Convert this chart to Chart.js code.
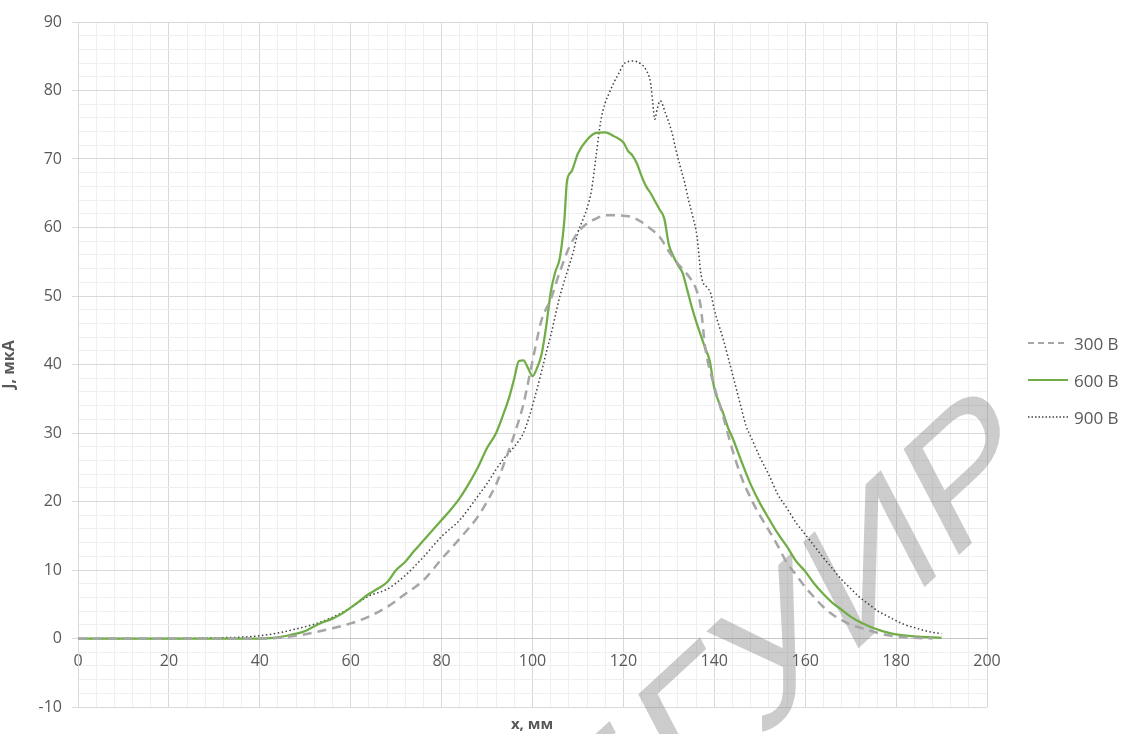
<!DOCTYPE html>
<html>
<head>
<meta charset="utf-8">
<script src="https://cdn.jsdelivr.net/npm/chart.js@4.4.0/dist/chart.umd.min.js"></script>
<style>
  html, body { margin: 0; padding: 0; background: #fff; }
  #wrap { position: relative; width: 1125px; height: 734px; font-family: 'Open Sans', sans-serif; }
  #xTitle { position: absolute; left: 482px; width: 100px; top: 713px; text-align: center; font-weight: bold; font-size: 15px; color: #595959; }
  #legend { position: absolute; left: 1027px; top: 0; color: #595959; font-size: 17px; }
  #legend div { position: absolute; left: 0; display: flex; align-items: center; height: 24px; white-space: nowrap; }
  #legend svg { margin-right: 5px; }
</style>
</head>
<body>
<div id="wrap">
  <canvas id="chart" width="1125" height="734"></canvas>
  <div id="xTitle">x, мм</div>
  <div id="legend"></div>
</div>
<script>
// 300 В
const x300 = [0, 10, 20, 30, 40, 44, 48, 52, 56, 60, 64, 68, 72, 76, 80, 84, 88, 90, 92, 94, 96, 98, 100, 102, 104, 106, 108, 110, 112, 114, 116, 118, 120, 122, 124, 126, 128, 130, 132, 134, 136, 137, 138, 140, 142, 144, 146, 148, 150, 152, 154, 156, 158, 160, 162, 164, 166, 168, 170, 172, 174, 176, 178, 180, 184, 188];
const j300 = [0, 0, 0, 0, 0, 0.1, 0.4, 0.9, 1.5, 2.2, 3.2, 4.6, 6.5, 8.5, 11.6, 14.6, 17.8, 20, 22.5, 26, 29.8, 34.2, 40.5, 46.5, 49.5, 53.5, 57, 59.3, 60.6, 61.3, 61.8, 61.8, 61.7, 61.5, 60.8, 59.8, 58.6, 56.5, 54.7, 53.2, 51, 48.5, 42.5, 36.8, 32.3, 27.5, 23.5, 20.5, 18, 15.8, 13.5, 11, 9.3, 7.5, 6, 4.6, 3.5, 2.7, 2, 1.6, 1.2, 0.8, 0.5, 0.3, 0.1, 0];

// 600 В
const x600 = [0, 10, 20, 30, 40, 43, 46, 48, 50, 52, 54, 56, 58, 60, 62, 64, 66, 68, 70, 72, 74, 76, 78, 80, 82, 84, 86, 88, 90, 92, 94, 95, 96, 97, 98, 99, 100, 101, 102, 103, 104, 105, 106, 107, 107.6, 108.6, 110, 112, 114, 116, 118, 120, 121, 122, 123, 124, 125, 126, 127, 128, 129, 130, 131, 132, 133, 134, 135, 136, 138, 139, 140, 141, 142, 143, 144, 146, 148, 150, 152, 154, 156, 158, 160, 162, 164, 166, 168, 170, 172, 174, 176, 178, 180, 184, 190];
const j600 = [0, 0, 0, 0, 0, 0.1, 0.4, 0.7, 1.1, 1.8, 2.4, 2.9, 3.6, 4.5, 5.5, 6.5, 7.3, 8.2, 10, 11.2, 12.8, 14.3, 15.8, 17.3, 18.8, 20.5, 22.6, 25, 27.8, 30, 33.5, 35.5, 38, 40.5, 40.6, 39.5, 38.3, 39.5, 41.5, 45.5, 50.5, 53.5, 55.5, 61, 66.8, 68.2, 70.8, 72.8, 73.8, 73.9, 73.3, 72.4, 71.2, 70.5, 69.3, 67.5, 66, 65, 63.8, 62.6, 61.3, 57.5, 55.8, 54.5, 53.4, 51, 48.5, 46.3, 42.4, 40.5, 36.5, 34.5, 32.8, 30.8, 29.3, 25.8, 22.5, 19.8, 17.5, 15.3, 13.4, 11.3, 9.8, 8, 6.5, 5.2, 4.2, 3.2, 2.4, 1.8, 1.3, 0.9, 0.6, 0.3, 0.1];

// 900 В
const x900 = [0, 20, 30, 36, 40, 44, 48, 52, 56, 60, 64, 68, 72, 76, 80, 84, 88, 90, 92, 94, 96, 98, 99, 100, 102, 103, 104, 106, 108, 109, 110, 111, 112, 113, 114, 115, 116, 117, 118, 119, 120, 121, 122, 123, 124, 125, 126, 126.5, 126.9, 127.4, 128.1, 129.2, 130.7, 131.5, 132.5, 133.5, 134.3, 135.3, 136.2, 137, 137.5, 138.5, 139.2, 140, 142, 144, 146, 147, 148, 149, 150, 152, 154, 156, 158, 160, 162, 164, 166, 168, 170, 172, 174, 176, 178, 180, 182, 184, 186, 188, 190];
const j900 = [0, 0, 0.1, 0.2, 0.4, 0.8, 1.4, 2.1, 3.1, 4.5, 6.2, 7.2, 9.2, 11.9, 14.9, 17.3, 20.8, 22.6, 24.7, 26.5, 28, 30, 31.8, 34, 39, 41.7, 44.2, 49.9, 54.3, 56.5, 59.3, 61, 62.8, 65.5, 70.5, 75.5, 78.2, 79.8, 81.3, 82.5, 83.8, 84.2, 84.3, 84.2, 83.8, 83, 81, 78, 75.8, 77.2, 78.5, 76.8, 73.8, 71.5, 68.9, 66.5, 64.1, 61.5, 58.7, 53.5, 52, 51.2, 50.4, 48, 43.6, 38.6, 33.5, 31, 29.5, 28, 26.5, 23.9, 21, 19, 16.9, 15.2, 13.5, 11.8, 10.2, 8.6, 7.3, 6, 5, 4, 3.3, 2.6, 2, 1.6, 1.2, 0.9, 0.7];

const seriesNames = ['300 В', '600 В', '900 В'];
const seriesColors = ['#a6a6a6', '#70ad47', '#404040'];

const toPoints = (xs, ys) => xs.map((x, i) => ({ x, y: ys[i] }));

// watermark over the plot, under the lines
const watermark = {
  id: 'watermark',
  beforeDatasetsDraw(chart) {
    const { ctx } = chart;
    ctx.save();
    ctx.setTransform(0.80, -0.74, 0.46, 0.88, 958, 556);
    ctx.font = '175px "Liberation Sans", Arial, sans-serif';
    ctx.fillStyle = 'rgba(120,120,120,0.38)';
    ctx.textAlign = 'right';
    ctx.textBaseline = 'alphabetic';
    ctx.fillText('БГУИР', ctx.measureText('Р').width - 13, 0);
    ctx.restore();
  },
};

const tickFont = { family: 'Open Sans', size: 16 };

const chart = new Chart(document.getElementById('chart').getContext('2d'), {
  type: 'line',
  data: {
    datasets: [
      {
        label: seriesNames[0],
        data: toPoints(x300, j300),
        borderColor: seriesColors[0],
        borderWidth: 2.5,
        borderDash: [9, 6],
      },
      {
        label: seriesNames[1],
        data: toPoints(x600, j600),
        borderColor: seriesColors[1],
        borderWidth: 2.25,
      },
      {
        label: seriesNames[2],
        data: toPoints(x900, j900),
        borderColor: seriesColors[2],
        borderWidth: 1.5,
        borderDash: [1.5, 2.5],
      },
    ],
  },
  options: {
    responsive: false,
    animation: false,
    devicePixelRatio: 1,
    cubicInterpolationMode: 'monotone',
    elements: { point: { radius: 0 } },
    layout: { padding: { left: 0, right: 138, top: 22, bottom: 27 } },
    plugins: { legend: { display: false }, tooltip: { enabled: false } },
    scales: {
      x: {
        type: 'linear',
        min: 0,
        max: 200,
        position: { y: 0 },
        border: { color: '#c8c8c8' },
        grid: {
          color: (c) => (c.tick && c.tick.value % 20 === 0 ? '#d9d9d9' : '#efefef'),
          tickColor: 'transparent',
          tickLength: 6,
        },
        ticks: {
          stepSize: 4,
          autoSkip: false,
          maxRotation: 0,
          padding: 7,
          color: '#595959',
          font: tickFont,
          callback: (v) => (v % 20 === 0 ? v : ''),
        },
      },
      y: {
        min: -10,
        max: 90,
        border: { color: '#d9d9d9' },
        afterFit(scale) { scale.width = 78; },
        grid: {
          color: (c) => {
            if (!c.tick) return '#efefef';
            if (c.tick.value === 0) return '#c8c8c8';
            return c.tick.value % 10 === 0 ? '#d9d9d9' : '#efefef';
          },
          tickColor: (c) => (c.tick && c.tick.value % 10 === 0 ? '#d9d9d9' : 'transparent'),
          tickLength: 6,
        },
        ticks: {
          stepSize: 2,
          autoSkip: false,
          padding: 10,
          color: '#595959',
          font: tickFont,
          callback: (v) => (v % 10 === 0 ? v : ''),
        },
        title: {
          display: true,
          text: 'J, мкА',
          color: '#595959',
          font: { family: 'Open Sans', size: 16, weight: 'bold' },
          padding: { top: 0, bottom: 0 },
        },
      },
    },
  },
  plugins: [watermark],
});

// legend
const legend = document.getElementById('legend');
const dashes = ['6,4', '', '1.5,2'];
const widths = [2, 2, 1.3];
const rowCenters = [343, 380, 417];
seriesNames.forEach((name, i) => {
  const row = document.createElement('div');
  row.style.top = (rowCenters[i] - 12) + 'px';
  row.innerHTML = `<svg width="42" height="10"><line x1="1" y1="5" x2="41" y2="5" stroke="${seriesColors[i]}" stroke-width="${widths[i]}" ${dashes[i] ? `stroke-dasharray="${dashes[i]}"` : ''}/></svg><span>${name}</span>`;
  legend.appendChild(row);
});
</script>
</body>
</html>
